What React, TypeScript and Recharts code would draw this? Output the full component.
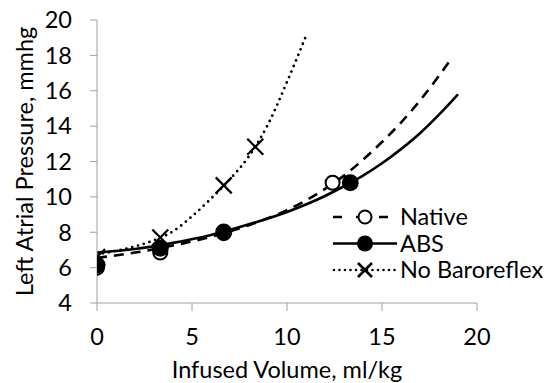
import React from 'react';
import { ComposedChart, Line, Scatter, XAxis, YAxis } from 'recharts';

// Fitted curves
const nativeCurveX = [0, 2, 4, 6, 8, 10, 11, 12, 13, 14, 15, 16, 17, 18, 18.7];
const nativeCurveY = [6.55, 6.85, 7.25, 7.75, 8.4, 9.25, 9.8, 10.45, 11.2, 12.1, 13.1, 14.2, 15.45, 16.85, 17.9];
const absCurveX = [0, 2, 4, 6, 8, 10, 12, 13, 14, 15, 16, 17, 18, 19];
const absCurveY = [6.85, 7.05, 7.4, 7.85, 8.45, 9.15, 10.05, 10.6, 11.2, 11.9, 12.7, 13.6, 14.65, 15.8];
const noBaroCurveX = [0, 1, 2, 3, 4, 5, 6, 7, 8, 9, 10, 11];
const noBaroCurveY = [6.75, 6.95, 7.2, 7.55, 8.05, 8.9, 9.9, 11.0, 12.3, 14.1, 16.5, 19.1];

// Measured points
const nativePtsX = [0, 3.33, 6.67, 12.4];
const nativePtsY = [6.0, 6.85, 7.95, 10.8];
const absPtsX = [0, 3.33, 6.67, 13.33];
const absPtsY = [6.15, 7.1, 8.02, 10.8];
const noBaroPtsX = [0, 3.33, 6.67, 8.33];
const noBaroPtsY = [6.6, 7.7, 10.65, 12.83];

const xTicks = [0, 5, 10, 15, 20];
const yTicks = [4, 6, 8, 10, 12, 14, 16, 18, 20];

const seriesNames = ['Native', 'ABS', 'No Baroreflex'];

const zip = (xs: number[], ys: number[]) => xs.map((x, i) => ({ x, y: ys[i] }));

const nativeCurve = zip(nativeCurveX, nativeCurveY);
const absCurve = zip(absCurveX, absCurveY);
const noBaroCurve = zip(noBaroCurveX, noBaroCurveY);
const nativePts = zip(nativePtsX, nativePtsY);
const absPts = zip(absPtsX, absPtsY);
const noBaroPts = zip(noBaroPtsX, noBaroPtsY);

const FONT = 'Lato, "Open Sans", sans-serif';
const FS = 23.5;
const AXIS = '#a0a0a0';

const OpenCircle = (p: any) => (
  <circle cx={p.cx} cy={p.cy} r={7} fill="#fff" stroke="#000" strokeWidth={2} />
);
const FilledCircle = (p: any) => <circle cx={p.cx} cy={p.cy} r={8.5} fill="#000" />;
const Cross = (p: any) => {
  const s = 8;
  return (
    <g stroke="#000" strokeWidth={2.2}>
      <line x1={p.cx - s} y1={p.cy - s} x2={p.cx + s} y2={p.cy + s} />
      <line x1={p.cx - s} y1={p.cy + s} x2={p.cx + s} y2={p.cy - s} />
    </g>
  );
};

const LegendBox = () => {
  const rows = [
    { name: seriesNames[0], dash: '9 14', marker: 'open' },
    { name: seriesNames[1], dash: undefined, marker: 'filled' },
    { name: seriesNames[2], dash: '0 5.5', marker: 'x' },
  ];
  return (
    <svg width={211} height={80} style={{ position: 'absolute', left: 333, top: 204, overflow: 'visible' }}>
      {rows.map((r, i) => {
        const cy = 13 + i * 26.5;
        return (
          <g key={r.name}>
            <line
              x1={r.dash === '0 5.5' ? 1 : 0}
              y1={cy}
              x2={r.marker === 'open' ? 71 : 64}
              y2={cy}
              stroke="#000"
              strokeWidth={2.6}
              strokeDasharray={r.dash}
              strokeLinecap={r.dash === '0 5.5' ? 'round' : 'butt'}
            />
            {r.marker === 'open' && <circle cx={32} cy={cy} r={6.5} fill="#fff" stroke="#000" strokeWidth={2} />}
            {r.marker === 'filled' && <circle cx={32} cy={cy} r={8} fill="#000" />}
            {r.marker === 'x' && (
              <g stroke="#000" strokeWidth={2.6}>
                <line x1={25} y1={cy - 7} x2={39} y2={cy + 7} />
                <line x1={25} y1={cy + 7} x2={39} y2={cy - 7} />
              </g>
            )}
            <text x={67} y={cy} dy="0.36em" fontFamily={FONT} fontSize={FS} fill="#000">
              {r.name}
            </text>
          </g>
        );
      })}
    </svg>
  );
};

export default function App() {
  return (
    <div style={{ position: 'absolute', left: 0, top: 0, width: 544, height: 383, background: '#fff' }}>
      <ComposedChart width={544} height={383} margin={{ top: 20, right: 67, bottom: 0, left: 0 }}>
        <XAxis
          dataKey="x"
          type="number"
          domain={[0, 20]}
          ticks={xTicks}
          interval={0}
          allowDataOverflow
          stroke={AXIS}
          tickSize={8}
          tickMargin={17}
          height={80}
          tick={{ fill: '#000', fontSize: FS, fontFamily: FONT }}
          tickLine={{ stroke: AXIS }}
          label={{
            content: (props: any) => {
              const vb = props.viewBox;
              return (
                <text x={vb.x + vb.width / 2} y={370} textAnchor="middle" dy="0.36em" fontFamily={FONT} fontSize={FS} fill="#000">
                  Infused Volume, ml/kg
                </text>
              );
            },
          }}
        />
        <YAxis
          type="number"
          domain={[4, 20]}
          ticks={yTicks}
          interval={0}
          allowDataOverflow
          stroke={AXIS}
          tickSize={7}
          tickMargin={18}
          width={97}
          tick={{ fill: '#000', fontSize: FS, fontFamily: FONT }}
          tickLine={{ stroke: AXIS }}
          label={{
            content: (props: any) => {
              const vb = props.viewBox;
              const cy = vb.y + vb.height / 2;
              return (
                <text x={25} y={cy} transform={`rotate(-90 25 ${cy})`} textAnchor="middle" dy="0.36em" fontFamily={FONT} fontSize={FS} fill="#000">
                  Left Atrial Pressure, mmhg
                </text>
              );
            },
          }}
        />
        <Line data={nativeCurve} dataKey="y" type="monotone" stroke="#000" strokeWidth={2.6} strokeDasharray="10 7" dot={false} isAnimationActive={false} legendType="none" />
        <Line data={absCurve} dataKey="y" type="monotone" stroke="#000" strokeWidth={2.6} dot={false} isAnimationActive={false} legendType="none" />
        <Line data={noBaroCurve} dataKey="y" type="monotone" stroke="#000" strokeWidth={2.8} strokeDasharray="0 6" strokeLinecap="round" dot={false} isAnimationActive={false} legendType="none" />
        <Scatter data={nativePts} dataKey="y" name={seriesNames[0]} shape={OpenCircle} isAnimationActive={false} />
        <Scatter data={absPts} dataKey="y" name={seriesNames[1]} shape={FilledCircle} isAnimationActive={false} />
        <Scatter data={noBaroPts} dataKey="y" name={seriesNames[2]} shape={Cross} isAnimationActive={false} />
      </ComposedChart>
      <LegendBox />
    </div>
  );
}
